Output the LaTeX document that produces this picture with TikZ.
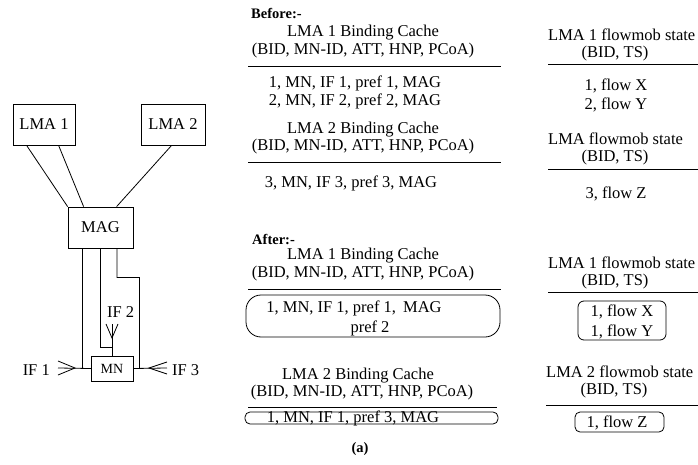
\documentclass[tikz,border=0pt]{standalone}
\usepackage{fontspec}
\setmainfont{Liberation Serif}
\usetikzlibrary{calc}
\newcommand{\txtsize}{\fontsize{16.5}{18}\selectfont}
\newcommand{\boldsize}{\fontsize{14.5}{16}\selectfont\bfseries}
\begin{document}
\begin{tikzpicture}[x=1pt,y=-1pt,
  every node/.style={font=\txtsize, inner sep=0pt},
  boxnode/.style={draw, line width=0.8pt, inner sep=0pt},
  wire/.style={line width=0.8pt},
  rule/.style={line width=1pt},
  rbox/.style={draw, line width=0.8pt, inner sep=0pt},
  txt/.style={anchor=base},
  ltxt/.style={anchor=base west},
  hdr/.style={anchor=base west, font=\boldsize}]
\useasboundingbox (0,0) rectangle (698,465);

% ---------- left network diagram ----------
\node[boxnode, minimum width=62pt, minimum height=41pt] (lma1) at (44,124.5) {LMA 1};
\node[boxnode, minimum width=64pt, minimum height=41pt] (lma2) at (173,124.5) {LMA 2};
\node[boxnode, minimum width=65pt, minimum height=41pt] (mag) at (100.5,227.5) {MAG};
\node[boxnode, minimum width=42pt, minimum height=25pt, font=\fontsize{14}{16}\selectfont] (mn) at (112,368.5) {MN};

\draw[wire] ($(lma1.south west)+(14,0)$) -- (mag.north west);
\draw[wire] ($(lma1.south west)+(46,0)$) -- ($(mag.north west)+(16,0)$);
\draw[wire] ($(lma2.south west)+(31,0)$) -- ($(mag.north west)+(49,0)$);

% IF 1
\coordinate (if1) at (58,368);
\draw[wire] ($(mag.south west)+(15,0)$) |- (mn.west);
\draw[wire] (mn.west) -- (if1);
\draw[wire] (58,361) -- (75,368) -- (58,375);
\node[anchor=base east] (if1lbl) at (50,375) {IF 1};

% IF 2
\coordinate (if2) at (112,324);
\draw[wire] (mn.north) -- (if2);
\draw[wire] ($(mag.south west)+(33,0)$) |- (112,347);
\draw[wire] (106,324) -- (112,338) -- (118,324);
\node[anchor=base west] (if2lbl) at (107,317) {IF 2};

% IF 3
\coordinate (if3) at (167,368);
\draw[wire] (mn.east) -- (if3);
\draw[wire] ($(mag.south west)+(49.5,0)$) -- (117,277.5) -- (139.5,277.5) -- (139.5,368);
\draw[wire] (167,362) -- (149,368) -- (167,374);
\node[anchor=base west] (if3lbl) at (172,375) {IF 3};

% ---------- Before ----------
\node[hdr] (before) at (251,19) {Before:-};
\node[txt] (b1t) at (363,37) {LMA 1 Binding Cache};
\node[txt] (b1h) at (363,55) {(BID, MN-ID, ATT, HNP, PCoA)};
\draw[rule] (248,67) -- (501,67);
\node[txt] (b1r1) at (355,88) {1, MN, IF 1, pref 1, MAG};
\node[txt] (b1r2) at (355,106) {2, MN, IF 2, pref 2, MAG};
\node[txt] (b2t) at (363,134) {LMA 2 Binding Cache};
\node[txt] (b2h) at (363,151) {(BID, MN-ID, ATT, HNP, PCoA)};
\draw[rule] (248,163) -- (501,163);
\node[txt] (b2r1) at (351,188) {3, MN, IF 3, pref 3, MAG};

\node[ltxt] (f1t) at (548,41) {LMA 1 flowmob state};
\node[txt] (f1h) at (615,58) {(BID, TS)};
\draw[rule] (548,65) -- (698,65);
\node[txt] (f1r1) at (616,91) {1, flow X};
\node[txt] (f1r2) at (616,110) {2, flow Y};
\node[ltxt] (f2t) at (548,145) {LMA flowmob state};
\node[txt] (f2h) at (615,162) {(BID, TS)};
\draw[rule] (548,170) -- (698,170);
\node[txt] (f2r1) at (616,198) {3, flow Z};

% ---------- After ----------
\node[hdr] (after) at (252,244) {After:-};
\node[txt] (a1t) at (363,259) {LMA 1 Binding Cache};
\node[txt] (a1h) at (363,277) {(BID, MN-ID, ATT, HNP, PCoA)};
\draw[rule] (248,289) -- (501,289);
\node[rbox, rounded corners=15pt, minimum width=254pt, minimum height=42pt] (a1box) at (373,316) {};
\node[txt] (a1r1) at (354,312) {1, MN, IF 1, pref 1,\hspace{3pt} MAG};
\node[txt] (a1r2) at (370,332) {pref 2};
\node[txt] (a2t) at (358,379) {LMA 2 Binding Cache};
\node[txt] (a2h) at (362,396) {(BID, MN-ID, ATT, HNP, PCoA)};
\draw[rule] (248,407) -- (497,407);
\node[rbox, rounded corners=5pt, minimum width=253pt, minimum height=12pt] (a2box) at (371.5,418) {};
\node[txt] (a2r1) at (353,422) {1, MN, IF 1, pref 3, MAG};

\node[ltxt] (g1t) at (548,268) {LMA 1 flowmob state};
\node[txt] (g1h) at (615,285) {(BID, TS)};
\draw[rule] (548,292) -- (698,292);
\node[rbox, rounded corners=6pt, minimum width=88pt, minimum height=39pt] (g1box) at (622,320.5) {};
\node[txt] (g1r1) at (622,316) {1, flow X};
\node[txt] (g1r2) at (622,336) {1, flow Y};
\node[ltxt] (g2t) at (546,377) {LMA 2 flowmob state};
\node[txt] (g2h) at (614,394) {(BID, TS)};
\draw[rule] (546,405) -- (698,405);
\node[rbox, rounded corners=5pt, minimum width=89pt, minimum height=20pt] (g2box) at (619.5,422) {};
\node[txt] (g2r1) at (617,427) {1, flow Z};

\node[anchor=base, font=\boldsize] (cap) at (360,452) {(a)};
\end{tikzpicture}
\end{document}
